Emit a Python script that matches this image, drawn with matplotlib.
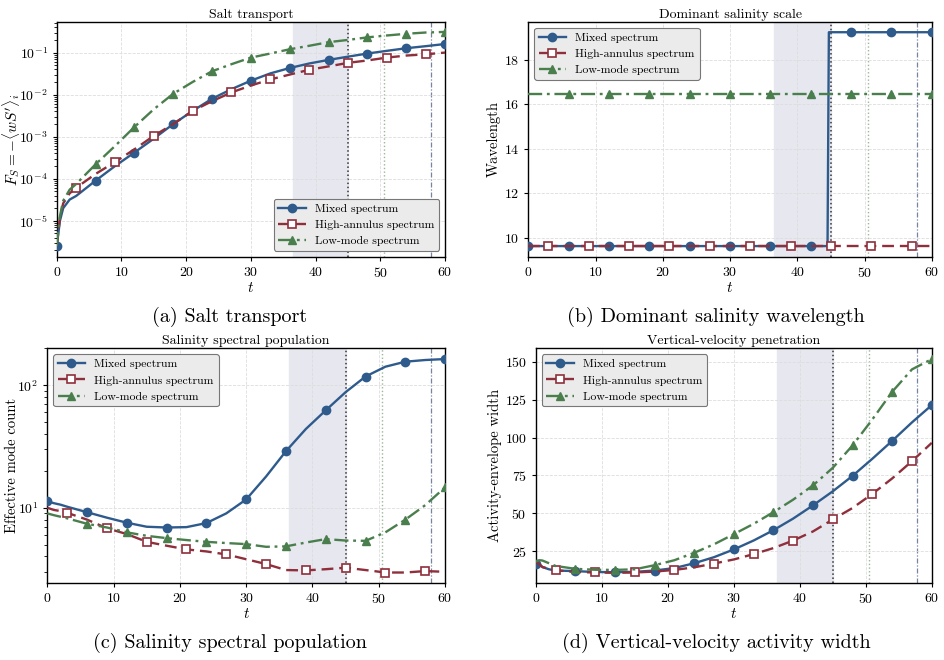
import matplotlib
matplotlib.use("Agg")
import matplotlib.pyplot as plt
import numpy as np

plt.rcParams["font.family"] = "serif"
plt.rcParams["font.serif"] = ["cmr10"]
plt.rcParams["mathtext.fontset"] = "cm"
plt.rcParams["axes.formatter.use_mathtext"] = True
plt.rcParams["axes.unicode_minus"] = True

# common time grid (step 3, with extra early samples)
t = [0, 0.5, 1, 2, 3, 6, 9, 12, 15, 18, 21, 24, 27, 30, 33, 36, 39, 42, 45, 48, 51, 54, 57, 60]

# (a) salt transport
flux_mixed = [2.5e-6, 1.0e-5, 2.0e-5, 3.2e-5, 3.9e-5, 9.0e-5, 2.0e-4, 4.2e-4, 9.0e-4, 2.0e-3, 4.1e-3,
              8.0e-3, 1.35e-2, 2.15e-2, 3.2e-2, 4.3e-2, 5.5e-2, 6.7e-2, 8.0e-2, 9.5e-2, 1.1e-1, 1.27e-1,
              1.42e-1, 1.6e-1]
flux_high = [2.5e-6, 1.2e-5, 2.6e-5, 4.5e-5, 6.1e-5, 1.3e-4, 2.5e-4, 5.0e-4, 1.05e-3, 2.0e-3, 4.1e-3,
             7.0e-3, 1.13e-2, 1.65e-2, 2.3e-2, 3.0e-2, 3.9e-2, 4.7e-2, 5.7e-2, 6.5e-2, 7.6e-2, 8.5e-2,
             9.1e-2, 1.0e-1]
flux_low = [2.5e-6, 1.3e-5, 3.0e-5, 5.5e-5, 7.5e-5, 2.2e-4, 6.0e-4, 1.7e-3, 4.5e-3, 1.05e-2, 2.0e-2,
            3.6e-2, 5.3e-2, 7.6e-2, 9.5e-2, 1.2e-1, 1.45e-1, 1.77e-1, 2.0e-1, 2.3e-1, 2.55e-1, 2.8e-1,
            3.0e-1, 3.1e-1]

# (b) dominant wavelength (finer near the jump)
t_b = [0, 3, 6, 9, 12, 15, 18, 21, 24, 27, 30, 33, 36, 39, 42, 44.5, 44.7, 45, 48, 51, 54, 57, 60]
wave_mixed = [9.62] * 16 + [19.25] * 7
wave_high = [9.62] * 23
wave_low = [16.45] * 23

# (c) effective mode count
modes_mixed = [11.3, 11.1, 10.9, 10.6, 10.2, 9.2, 8.3, 7.55, 7.0, 6.9, 6.95, 7.5, 9.0, 11.7, 18.0, 29.0,
               44.0, 62.5, 88.0, 118.0, 142.0, 156.0, 161.0, 164.0]
modes_high = [10.0, 9.8, 9.6, 9.4, 9.1, 8.0, 6.8, 6.1, 5.27, 4.9, 4.57, 4.4, 4.16, 3.8, 3.47, 3.1,
              3.08, 3.15, 3.24, 3.1, 2.96, 2.96, 3.04, 3.0]
modes_low = [9.0, 8.85, 8.7, 8.45, 8.2, 7.4, 6.9, 6.3, 5.9, 5.65, 5.45, 5.27, 5.15, 5.05, 4.8, 4.84,
             5.2, 5.55, 5.4, 5.37, 6.3, 8.0, 10.5, 14.7]

# (d) activity-envelope width
width_mixed = [16.8, 16.5, 14.5, 13.0, 12.2, 11.8, 11.2, 11.1, 11.3, 12.2, 13.8, 17.0, 21.0, 26.1, 32.0,
               38.8, 46.5, 55.2, 64.5, 74.7, 86.0, 97.8, 110.0, 121.4]
width_high = [17.5, 16.5, 14.5, 13.3, 12.4, 11.2, 10.9, 10.7, 10.9, 11.5, 12.6, 14.3, 16.8, 19.5, 23.0,
              27.0, 32.0, 38.0, 45.9, 53.5, 62.8, 73.0, 84.4, 96.5]
width_low = [18.0, 19.0, 18.8, 17.0, 15.2, 13.3, 12.7, 12.6, 13.0, 15.7, 19.0, 23.9, 29.5, 36.2, 43.0,
             50.7, 59.0, 68.4, 80.0, 94.8, 112.0, 130.2, 145.0, 151.8]

labels = ["Mixed spectrum", "High-annulus spectrum", "Low-mode spectrum"]
blue = "#2e5b8c"
red = "#8e2f3b"
green = "#4a7f4d"

shade = (36.5, 45.0)


def marks(tt, offset):
    # indices where a marker sits: every 6 time units from offset
    return [i for i, v in enumerate(tt) if v >= offset and (v - offset) % 6 == 0]


def draw(ax, tt, ym, yh, yl):
    ax.axvspan(shade[0], shade[1], color="#e7e7f0", zorder=0)
    ax.axvline(45.0, color="#333333", ls=":", lw=1.1, zorder=1)
    ax.axvline(50.5, color="#9bb79b", ls=":", lw=1.0, zorder=1)
    ax.axvline(57.8, color="#7585a0", ls=(0, (4, 1.5, 1, 1.5)), lw=0.9, zorder=1)
    ax.plot(tt, ym, color=blue, lw=1.7, marker="o", ms=6, markevery=marks(tt, 0),
            label=labels[0], zorder=3)
    ax.plot(tt, yh, color=red, lw=1.7, ls=(0, (5, 2.5)), marker="s", ms=6, mfc="white",
            mec=red, mew=1.2, markevery=marks(tt, 3), label=labels[1], zorder=3)
    ax.plot(tt, yl, color=green, lw=1.7, ls=(0, (6, 2, 1.2, 2)), marker="^", ms=6,
            markevery=marks(tt, 6), label=labels[2], zorder=3)
    ax.set_xlim(0, 60)
    ax.grid(True, color="#dddddd", ls="--", lw=0.6)
    ax.set_xlabel("$t$", fontsize=11, labelpad=1)
    ax.tick_params(labelsize=10, length=3)
    for s in ax.spines.values():
        s.set_linewidth(1.0)


def legend(ax, loc):
    leg = ax.legend(loc=loc, fontsize=8.5, frameon=True, fancybox=True, facecolor="#ebebeb",
                    edgecolor="#777777", framealpha=1.0, handlelength=2.3, borderpad=0.4)
    leg.get_frame().set_linewidth(0.8)


fig = plt.figure(figsize=(9.45, 6.6), dpi=100)
ax_a = fig.add_axes([0.060, 0.611, 0.411, 0.356])
ax_b = fig.add_axes([0.559, 0.611, 0.427, 0.356])
ax_c = fig.add_axes([0.050, 0.117, 0.421, 0.355])
ax_d = fig.add_axes([0.567, 0.117, 0.419, 0.355])

# (a)
draw(ax_a, t, flux_mixed, flux_high, flux_low)
ax_a.set_yscale("log")
ax_a.set_ylim(1.4e-6, 0.54)
ax_a.set_ylabel(r"$F_S = -\langle wS' \rangle_i$", fontsize=11)
ax_a.yaxis.set_label_coords(-0.09, 0.5)
ax_a.set_title("Salt transport", fontsize=10, pad=3)
legend(ax_a, "lower right")

# (b)
draw(ax_b, t_b, wave_mixed, wave_high, wave_low)
ax_b.set_ylim(9.14, 19.72)
ax_b.set_yticks([10, 12, 14, 16, 18])
ax_b.set_ylabel("Wavelength", fontsize=10.5, labelpad=2)
ax_b.set_title("Dominant salinity scale", fontsize=10, pad=3)
legend(ax_b, "upper left")

# (c)
draw(ax_c, t, modes_mixed, modes_high, modes_low)
ax_c.set_yscale("log")
ax_c.set_ylim(2.44, 200)
ax_c.set_ylabel("Effective mode count", fontsize=10.5)
ax_c.yaxis.set_label_coords(-0.072, 0.5)
ax_c.set_title("Salinity spectral population", fontsize=10, pad=3)
legend(ax_c, "upper left")

# (d)
draw(ax_d, t, width_mixed, width_high, width_low)
ax_d.set_ylim(4.1, 158.8)
ax_d.set_yticks([25, 50, 75, 100, 125, 150])
ax_d.set_ylabel("Activity-envelope width", fontsize=10.5, labelpad=2)
ax_d.set_title("Vertical-velocity penetration", fontsize=10, pad=3)
legend(ax_d, "upper left")

captions = [(0.243, 0.52, "(a) Salt transport"),
            (0.758, 0.52, "(b) Dominant salinity wavelength"),
            (0.243, 0.026, "(c) Salinity spectral population"),
            (0.758, 0.026, "(d) Vertical-velocity activity width")]
for x, y, s in captions:
    fig.text(x, y, s, ha="center", va="center", fontsize=14.5)

fig.savefig("out.png", dpi=100)
